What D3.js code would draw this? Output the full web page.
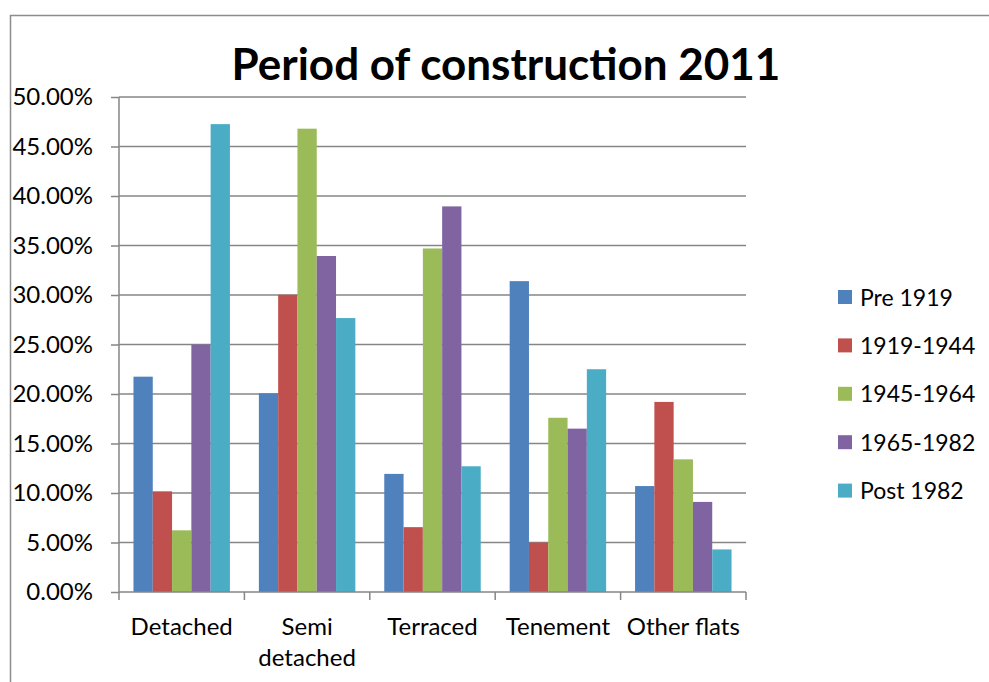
<!DOCTYPE html>
<html>
<head>
<meta charset="utf-8">
<script src="https://cdn.jsdelivr.net/npm/d3@7"></script>
<style>
  html, body { margin: 0; padding: 0; background: #fff; }
  svg { display: block; font-family: Lato, "Open Sans", sans-serif; }
</style>
</head>
<body>
<svg id="stage" width="989" height="682"></svg>
<script>
// ---- data ----
const categories = ["Detached", "Semi detached", "Terraced", "Tenement", "Other flats"];
const seriesNames = ["Pre 1919", "1919-1944", "1945-1964", "1965-1982", "Post 1982"];
const pre1919   = [21.75, 20.07, 11.93, 31.4, 10.7];
const p1919_44  = [10.17, 30.03, 6.55, 5.0, 19.2];
const p1945_64  = [6.23, 46.8, 34.7, 17.6, 13.4];
const p1965_82  = [25.0, 33.94, 38.95, 16.5, 9.1];
const post1982  = [47.26, 27.67, 12.7, 22.5, 4.3];
const yTicks = [0, 5, 10, 15, 20, 25, 30, 35, 40, 45, 50];
const colors = ["#4F81BD", "#C0504D", "#9BBB59", "#8064A2", "#4BACC6"];

const series = [pre1919, p1919_44, p1945_64, p1965_82, post1982];

const svg = d3.select("#stage");
const W = 989, H = 682;
const M = { left: 119, right: 746, top: 97, bottom: 592 };

// outer chart border
svg.append("rect")
  .attr("x", 10.5).attr("y", 15.5)
  .attr("width", W + 20).attr("height", H + 20)
  .attr("fill", "none").attr("stroke", "#8c8c8c").attr("stroke-width", 1.5);

// title
svg.append("text")
  .attr("x", 506).attr("y", 80)
  .attr("text-anchor", "middle")
  .attr("font-weight", "bold")
  .attr("font-size", 44)
  .attr("fill", "#000")
  .text("Period of construction 2011");

// scales (gap between groups = 1.5 bar widths)
const x0 = d3.scaleBand().domain(categories).range([M.left, M.right]).paddingInner(0).paddingOuter(0);
const x1 = d3.scaleBand().domain(d3.range(series.length))
  .range([0, x0.bandwidth()]).paddingInner(0).paddingOuter(0.75);
const y = d3.scaleLinear().domain([0, 50]).range([M.bottom, M.top]);

// gridlines
svg.append("g").selectAll("line").data(yTicks.slice(1)).join("line")
  .attr("x1", M.left).attr("x2", M.right)
  .attr("y1", d => y(d)).attr("y2", d => y(d))
  .attr("stroke", "#868686").attr("stroke-width", 1.5);

// bars
const gBars = svg.append("g");
categories.forEach((c, ci) => {
  series.forEach((s, si) => {
    gBars.append("rect")
      .attr("x", x0(c) + x1(si))
      .attr("width", x1.bandwidth())
      .attr("y", y(s[ci]))
      .attr("height", y(0) - y(s[ci]))
      .attr("fill", colors[si]);
  });
});

// y axis
const yAxis = d3.axisLeft(y).tickValues(yTicks).tickSize(8).tickPadding(18)
  .tickFormat(d => d.toFixed(2) + "%");
const gy = svg.append("g").attr("transform", `translate(${M.left},0)`).call(yAxis);
gy.select(".domain").attr("stroke", "#868686").attr("stroke-width", 1.5).attr("d", `M0,${M.top}V${M.bottom}`);
gy.selectAll(".tick line").attr("stroke", "#868686").attr("stroke-width", 1.5);
gy.selectAll(".tick text").attr("font-family", "Lato, sans-serif").attr("font-size", 24).attr("fill", "#000");

// x axis line + boundary ticks
const bounds = categories.map(c => x0(c)).concat([M.right]);
svg.append("line").attr("x1", M.left).attr("x2", M.right)
  .attr("y1", M.bottom).attr("y2", M.bottom)
  .attr("stroke", "#868686").attr("stroke-width", 1.5);
svg.append("g").selectAll("line").data(bounds).join("line")
  .attr("x1", d => d).attr("x2", d => d)
  .attr("y1", M.bottom).attr("y2", M.bottom + 8)
  .attr("stroke", "#868686").attr("stroke-width", 1.5);

// category labels (Semi detached wraps)
const xLabels = svg.append("g");
categories.forEach(c => {
  const lines = c === "Semi detached" ? ["Semi", "detached"] : [c];
  const t = xLabels.append("text")
    .attr("x", x0(c) + x0.bandwidth() / 2).attr("y", 635)
    .attr("text-anchor", "middle").attr("font-size", 24).attr("fill", "#000");
  lines.forEach((l, i) => {
    t.append("tspan").attr("x", x0(c) + x0.bandwidth() / 2).attr("dy", i ? 31 : 0).text(l);
  });
});

// legend
const legend = svg.append("g").attr("transform", "translate(838,297)");
seriesNames.forEach((n, i) => {
  const row = legend.append("g").attr("transform", `translate(0,${i * 48.4})`);
  row.append("rect").attr("x", 0).attr("y", -7).attr("width", 14).attr("height", 14).attr("fill", colors[i]);
  row.append("text").attr("x", 22).attr("y", 8.5).attr("font-size", 23).attr("fill", "#000").text(n);
});
</script>
</body>
</html>
